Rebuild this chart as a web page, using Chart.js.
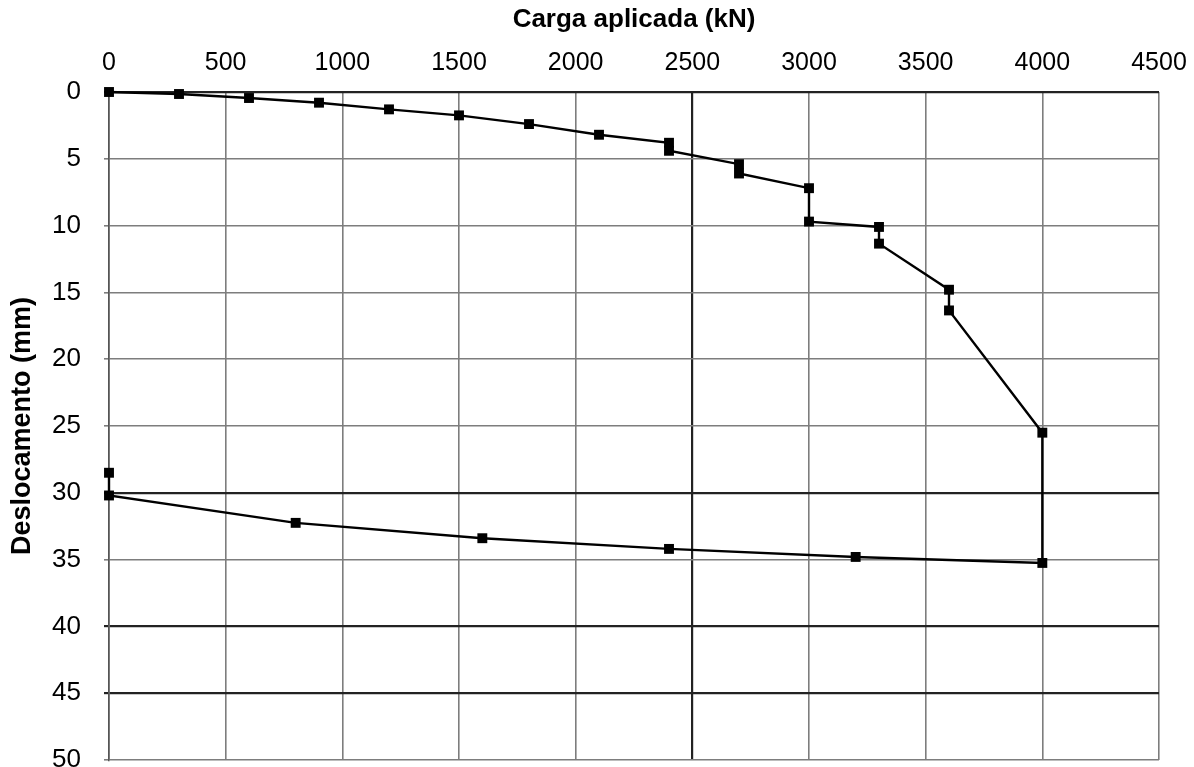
<!DOCTYPE html>
<html>
<head>
<meta charset="utf-8">
<script src="https://cdn.jsdelivr.net/npm/chart.js@4"></script>
<style>
  html, body { margin: 0; padding: 0; background: #fff; }
  #wrap { width: 1194px; height: 767px; }
</style>
</head>
<body>
<div id="wrap"><canvas id="chart" width="1194" height="767"></canvas></div>
<script>
// load test: carga (kN) vs deslocamento (mm), loading then unloading
const carga = [
  0, 300, 600, 900, 1200, 1500, 1800, 2100, 2400, 2400, 2700, 2700,
  3000, 3000, 3300, 3300, 3600, 3600, 4000, 4000, 3200, 2400, 1600, 800, 0, 0,
];
const deslocamento = [
  0, 0.15, 0.45, 0.8, 1.3, 1.75, 2.4, 3.2, 3.8, 4.4, 5.4, 6.1,
  7.2, 9.7, 10.1, 11.35, 14.8, 16.35, 25.5, 35.25, 34.8, 34.2, 33.4, 32.25, 30.2, 28.5,
];
const xTicks = [0, 500, 1000, 1500, 2000, 2500, 3000, 3500, 4000, 4500];
const yTicks = [0, 5, 10, 15, 20, 25, 30, 35, 40, 45, 50];

const darkX = [2500];
const darkY = [0, 30, 40, 45];

const points = carga.map((c, i) => ({ x: c, y: deslocamento[i] }));

const ctx = document.querySelector("#chart").getContext("2d");

const bgColor = {
  id: "bgColor",
  beforeDraw: (chart) => {
    const { ctx, width, height } = chart;
    ctx.save();
    ctx.fillStyle = "white";
    ctx.fillRect(0, 0, width, height);
    ctx.restore();
  },
};

new Chart(ctx, {
  type: "scatter",
  data: {
    datasets: [
      {
        label: "Carga x deslocamento",
        data: points,
        showLine: true,
        clip: false,
        borderColor: "#000",
        borderWidth: 2.4,
        backgroundColor: "#000",
        pointStyle: "rect",
        pointRadius: 7,
        pointBorderWidth: 0,
        tension: 0,
      },
    ],
  },
  options: {
    responsive: false,
    animation: false,
    layout: { padding: { left: 0, top: 0, right: 35, bottom: 6 } },
    plugins: {
      legend: { display: false },
      tooltip: { enabled: false },
    },
    scales: {
      x: {
        type: "linear",
        position: "top",
        min: 0,
        max: 4500,
        afterBuildTicks: (axis) => {
          axis.ticks = xTicks.map((v) => ({ value: v }));
        },
        afterFit: (axis) => {
          axis.height = 92;
          axis.paddingLeft = 0;
          axis.paddingRight = 0;
        },
        ticks: {
          color: "#000",
          padding: 14,
          maxRotation: 0,
          autoSkip: false,
          callback: (v) => String(v),
          font: { family: "Liberation Sans", size: 25 },
        },
        grid: {
          drawTicks: false,
          color: (c) => (darkX.includes(c.tick.value) ? "#222" : "#7d7d7d"),
          lineWidth: (c) => (darkX.includes(c.tick.value) ? 2.2 : 1.6),
        },
        border: { display: false },
        title: {
          display: true,
          text: "Carga aplicada (kN)",
          color: "#000",
          padding: { top: 4, bottom: 0 },
          font: { family: "Liberation Sans", size: 26, weight: "bold" },
        },
      },
      y: {
        type: "linear",
        reverse: true,
        min: 0,
        max: 50,
        afterBuildTicks: (axis) => {
          axis.ticks = yTicks.map((v) => ({ value: v }));
        },
        afterFit: (axis) => {
          axis.width = 109;
          axis.paddingTop = 0;
          axis.paddingBottom = 0;
        },
        ticks: {
          color: "#000",
          padding: 23,
          autoSkip: false,
          font: { family: "Liberation Sans", size: 26 },
        },
        grid: {
          tickLength: 5,
          color: (c) => (darkY.includes(c.tick.value) ? "#222" : "#7d7d7d"),
          lineWidth: (c) => (darkY.includes(c.tick.value) ? 2.2 : 1.6),
        },
        border: { display: true, color: "#555", width: 1.6 },
        title: {
          display: true,
          text: "Deslocamento (mm)",
          color: "#000",
          padding: { top: 6, bottom: 0 },
          font: { family: "Liberation Sans", size: 27, weight: "bold" },
        },
      },
    },
  },
  plugins: [bgColor],
});
</script>
</body>
</html>
